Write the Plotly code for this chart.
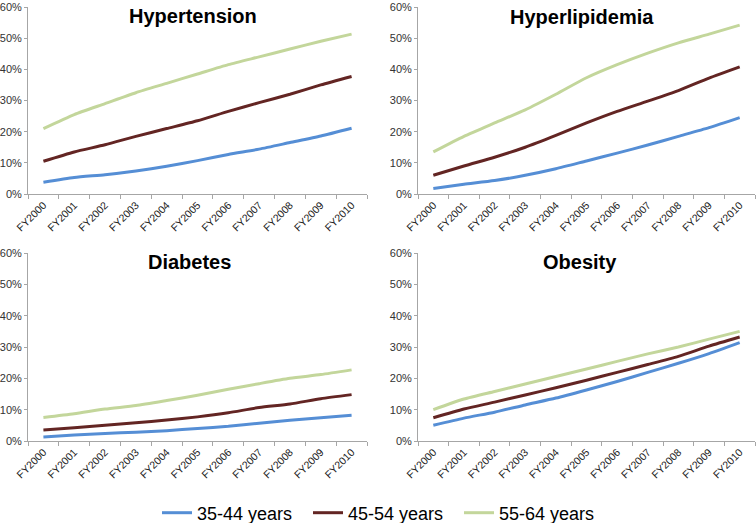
import plotly.graph_objects as go

years = ["FY2000", "FY2001", "FY2002", "FY2003", "FY2004", "FY2005",
         "FY2006", "FY2007", "FY2008", "FY2009", "FY2010"]
groups = ["35-44 years", "45-54 years", "55-64 years"]
colors = ["#558ed5", "#632523", "#c3d69b"]

hypertension = {
    "35-44 years": [3.8, 5.3, 6.2, 7.4, 8.9, 10.7, 12.7, 14.4, 16.5, 18.6, 21.1],
    "45-54 years": [10.5, 13.5, 15.8, 18.5, 21.0, 23.5, 26.5, 29.3, 32.0, 35.0, 37.7],
    "55-64 years": [21.0, 25.5, 29.0, 32.5, 35.5, 38.5, 41.5, 44.0, 46.5, 49.0, 51.3],
}
hyperlipidemia = {
    "35-44 years": [1.8, 3.1, 4.3, 6.0, 8.1, 10.6, 13.1, 15.7, 18.5, 21.3, 24.5],
    "45-54 years": [6.0, 9.0, 11.8, 15.0, 18.8, 22.8, 26.5, 29.8, 33.2, 37.2, 40.8],
    "55-64 years": [13.5, 18.5, 22.8, 27.0, 32.0, 37.3, 41.5, 45.2, 48.5, 51.3, 54.2],
}
diabetes = {
    "35-44 years": [1.3, 1.9, 2.4, 2.8, 3.3, 4.0, 4.7, 5.7, 6.6, 7.4, 8.2],
    "45-54 years": [3.5, 4.2, 5.0, 5.8, 6.7, 7.7, 9.0, 10.7, 11.8, 13.5, 14.8],
    "55-64 years": [7.5, 8.7, 10.2, 11.3, 12.9, 14.6, 16.5, 18.3, 20.0, 21.2, 22.7],
}
obesity = {
    "35-44 years": [5.0, 7.3, 9.2, 11.5, 13.7, 16.3, 19.0, 21.9, 24.8, 27.9, 31.4],
    "45-54 years": [7.4, 10.2, 12.4, 14.7, 17.0, 19.4, 21.9, 24.4, 27.0, 30.3, 33.2],
    "55-64 years": [10.0, 13.4, 15.8, 18.2, 20.6, 23.0, 25.4, 27.8, 30.0, 32.5, 35.0],
}
panels = [("Hypertension", hypertension), ("Hyperlipidemia", hyperlipidemia),
          ("Diabetes", diabetes), ("Obesity", obesity)]

W, H = 756, 523
# pixel boxes: (left, right, top, bottom)
boxes = [(28, 367, 7, 194), (418, 755, 7, 194), (28, 367, 253, 441), (418, 755, 253, 441)]
title_pos = [(193, 16), (582, 17), (189, 262), (580, 262)]

fig = go.Figure()
font_family = "Liberation Sans, Arial, Helvetica, sans-serif"
axis_color = "#a6a6a6"

for i, (name, data) in enumerate(panels):
    n = i + 1
    xa = "x" if n == 1 else f"x{n}"
    ya = "y" if n == 1 else f"y{n}"
    for g, c in zip(groups, colors):
        fig.add_trace(go.Scatter(
            x=years, y=[v / 100 for v in data[g]], mode="lines",
            line=dict(color=c, width=3, shape="spline", smoothing=0.6),
            name=g, legendgroup=g, showlegend=(i == 0),
            xaxis=xa, yaxis=ya, hoverinfo="skip"))
    l, r, t, b = boxes[i]
    xkey = "xaxis" if n == 1 else f"xaxis{n}"
    ykey = "yaxis" if n == 1 else f"yaxis{n}"
    fig.update_layout(**{
        xkey: dict(domain=[l / W, r / W], anchor=ya, type="category",
                   range=[-0.5, 10.5], tickson="boundaries", ticks="outside",
                   ticklen=4, tickcolor=axis_color, showline=True,
                   linecolor=axis_color, linewidth=1, showgrid=False,
                   tickangle=-45, tickfont=dict(size=10.5, color="#222", family=font_family),
                   zeroline=False, fixedrange=True, automargin=False),
        ykey: dict(domain=[1 - b / H, 1 - t / H], anchor=xa, range=[0, 0.6],
                   dtick=0.1, tickformat=".0%", ticks="outside", ticklen=3,
                   tickcolor=axis_color, showline=True, linecolor=axis_color,
                   linewidth=1, showgrid=False, zeroline=False,
                   tickfont=dict(size=11, color="#333", family=font_family),
                   fixedrange=True, automargin=False),
    })
    tx, ty = title_pos[i]
    fig.add_annotation(text=f"<b>{name}</b>", x=tx / W, y=1 - ty / H,
                       xref="paper", yref="paper", xanchor="center", yanchor="middle",
                       showarrow=False, font=dict(size=20, color="#000", family=font_family))

fig.update_layout(
    width=W, height=H, margin=dict(l=0, r=0, t=0, b=0, autoexpand=False),
    paper_bgcolor="white", plot_bgcolor="white",
    font=dict(family=font_family),
    legend=dict(orientation="h", x=157 / W, xanchor="left", y=1 - 513 / H, yanchor="middle",
                font=dict(size=18, color="#000", family=font_family),
                entrywidth=106, entrywidthmode="pixels",
                tracegroupgap=0, bgcolor="rgba(0,0,0,0)"),
)

fig.write_html("out.html", config={"displayModeBar": False},
               post_script="document.body.style.margin='0';document.body.style.overflow='hidden';")
